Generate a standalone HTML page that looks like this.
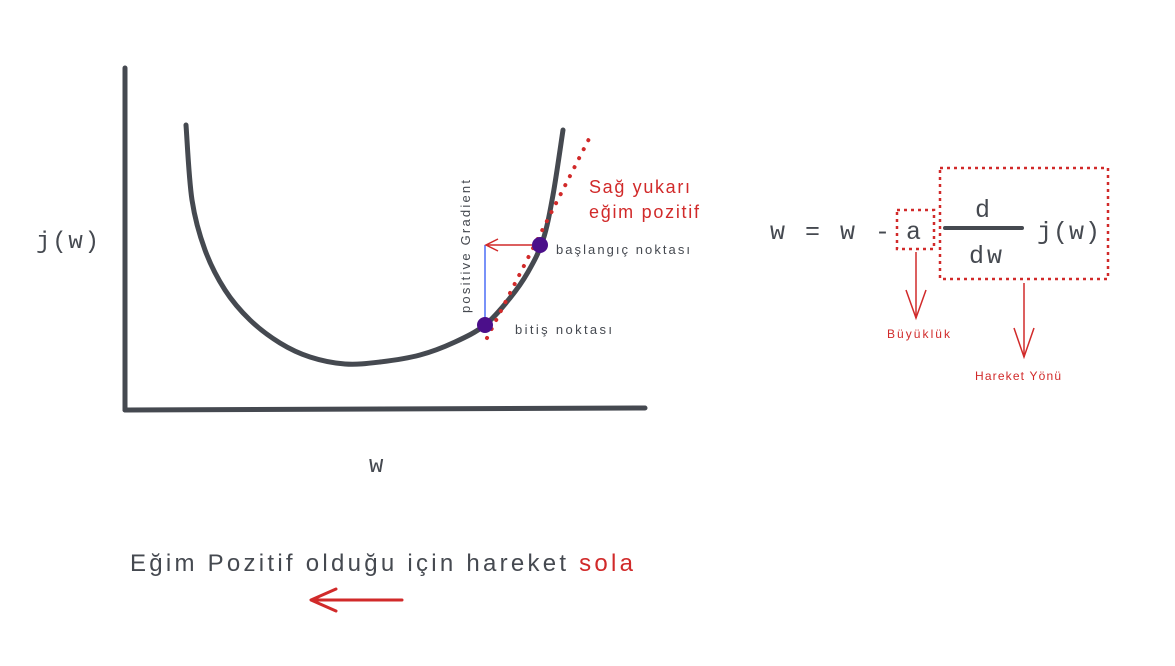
<!DOCTYPE html>
<html><head><meta charset="utf-8"><style>
body{margin:0;background:#fff;}
svg{display:block;}
.mono{font-family:"Liberation Mono",monospace;fill:#454950;}
.hand{font-family:"Liberation Sans",sans-serif;}
</style></head><body>
<svg id="c" width="1175" height="666" viewBox="0 0 1175 666">
<line x1="125" y1="68" x2="125" y2="410" stroke="#454950" stroke-width="5" stroke-linecap="round"/>
<line x1="125" y1="410" x2="645" y2="408" stroke="#454950" stroke-width="5" stroke-linecap="round"/>
<text x="36" y="248" class="mono" font-size="24" textLength="63">j(w)</text>
<text x="369" y="472" class="mono" font-size="24">w</text>
<path id="curve" fill="none" stroke="#454950" stroke-width="5" stroke-linecap="round"/>
<line x1="487" y1="338" x2="592" y2="133" stroke="#d12a2a" stroke-width="4" stroke-dasharray="0.1 10" stroke-linecap="round"/>
<line x1="485" y1="245" x2="485" y2="325" stroke="#4c6ef5" stroke-width="1.5"/>
<line x1="540" y1="245" x2="486" y2="245" stroke="#d12a2a" stroke-width="1.5"/>
<polyline points="498,239 486,245 498,251" fill="none" stroke="#d12a2a" stroke-width="1.5"/>
<circle cx="540" cy="245" r="8" fill="#4b0f8a"/>
<circle cx="485" cy="325" r="8" fill="#4b0f8a"/>
<text x="0" y="0" transform="translate(470,313) rotate(-90)" class="hand" font-size="13" fill="#454950" textLength="133">positive Gradient</text>
<text x="556" y="254" class="hand" font-size="13" fill="#454950" textLength="134">başlangıç noktası</text>
<text x="515" y="334" class="hand" font-size="13" fill="#454950" textLength="97">bitiş noktası</text>
<text x="589" y="193" class="hand" font-size="18" fill="#d12a2a" textLength="101">Sağ yukarı</text>
<text x="589" y="218" class="hand" font-size="18" fill="#d12a2a" textLength="110">eğim pozitif</text>
<text x="770" y="239" class="mono" font-size="25" xml:space="preserve" textLength="120">w = w -</text>
<text x="906" y="239" class="mono" font-size="25">a</text>
<rect x="897" y="210" width="37" height="39" fill="none" stroke="#d12a2a" stroke-width="2.5" stroke-dasharray="3 4"/>
<line x1="945" y1="228" x2="1022" y2="228" stroke="#454950" stroke-width="4" stroke-linecap="round"/>
<text x="975" y="217" class="mono" font-size="25">d</text>
<text x="969" y="263" class="mono" font-size="25" textLength="33">dw</text>
<text x="1037" y="239" class="mono" font-size="25" textLength="63">j(w)</text>
<rect x="940" y="168" width="168" height="111" fill="none" stroke="#d12a2a" stroke-width="2.5" stroke-dasharray="3 4"/>
<line x1="916" y1="252" x2="916" y2="318" stroke="#d12a2a" stroke-width="1.5"/>
<polyline points="906,290 916,318 926,290" fill="none" stroke="#d12a2a" stroke-width="1.5"/>
<text x="887" y="338" class="hand" font-size="12" fill="#d12a2a" textLength="63">Büyüklük</text>
<line x1="1024" y1="283" x2="1024" y2="357" stroke="#d12a2a" stroke-width="1.5"/>
<polyline points="1014,328 1024,357 1034,328" fill="none" stroke="#d12a2a" stroke-width="1.5"/>
<text x="975" y="380" class="hand" font-size="12" fill="#d12a2a" textLength="86">Hareket Yönü</text>
<text x="130" y="571" class="hand" font-size="24" fill="#454950" textLength="503">Eğim Pozitif olduğu için hareket <tspan fill="#d12a2a">sola</tspan></text>
<line x1="402" y1="600" x2="312" y2="600" stroke="#d12a2a" stroke-width="3" stroke-linecap="round"/>
<polyline points="336,589 311,600 336,611" fill="none" stroke="#d12a2a" stroke-width="3" stroke-linecap="round" stroke-linejoin="round"/>
</svg>
<script>
const curveX=[186,192,205,225,250,280,310,345,380,420,455,485,510,528,543,553,563];
const curveY=[125,200,250,290,320,343,357,364,362,355,342,325,298,272,240,195,130];
const pts=curveX.map((x,i)=>[x,curveY[i]]);
let d='M'+pts[0].join(',');
for(let i=0;i<pts.length-1;i++){
  const p0=pts[i-1]||pts[i],p1=pts[i],p2=pts[i+1],p3=pts[i+2]||p2;
  const c1=[p1[0]+(p2[0]-p0[0])/6,p1[1]+(p2[1]-p0[1])/6];
  const c2=[p2[0]-(p3[0]-p1[0])/6,p2[1]-(p3[1]-p1[1])/6];
  d+=' C'+c1.join(',')+' '+c2.join(',')+' '+p2.join(',');
}
document.getElementById('curve').setAttribute('d',d);
</script>
</body></html>
